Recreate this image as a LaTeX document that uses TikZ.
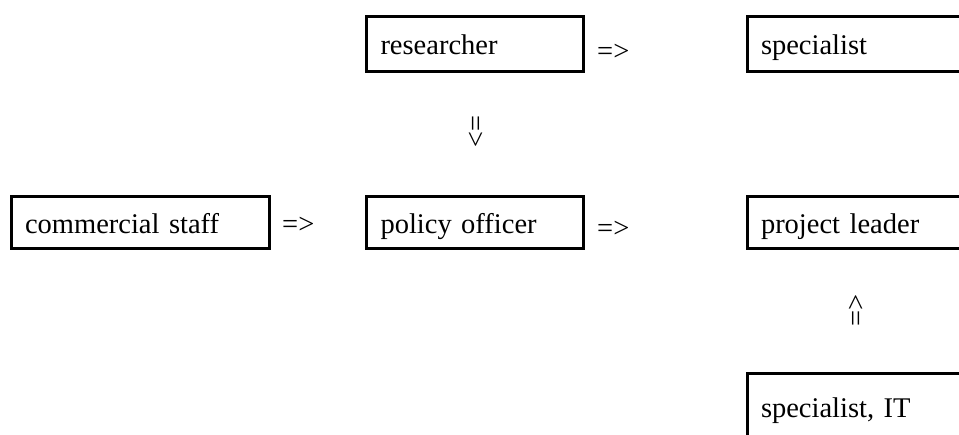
\documentclass[tikz,border=0pt]{standalone}
\usepackage{fontspec}
\setmainfont{Liberation Serif}
\begin{document}
\begin{tikzpicture}[x=1pt,y=-1pt,
  box/.style={draw=black, line width=3pt, rectangle, anchor=north west,
    font=\fontsize{28.5}{34}\selectfont, inner xsep=14pt, inner ysep=0pt,
    align=left, text height=21pt, text depth=0pt},
  arr/.style={font=\fontsize{28.5}{34}\selectfont, inner sep=0pt}]
\useasboundingbox (0,0) rectangle (959,434);
% boxes
\node[box, minimum width=217pt, minimum height=55pt, text width=189pt] (res) at (365,14.5) {researcher};
\node[box, minimum width=217pt, minimum height=55pt, text width=189pt] (spec) at (745.5,15) {specialist};
\node[box, minimum width=258.5pt, minimum height=52pt, text width=230.5pt] (com) at (9.5,195) {commercial staff};
\node[box, minimum width=217pt, minimum height=52pt, text width=189pt] (pol) at (365,195) {policy officer};
\node[box, minimum width=217pt, minimum height=52pt, text width=189pt] (pl) at (745.5,195) {project leader};
\node[box, minimum width=217pt, minimum height=66pt, text width=189pt] (sit) at (745.5,372) {specialist, IT};
% arrows as text
\node[arr, anchor=base west] (a1) at (597,60) {=>};
\node[arr, anchor=base west] (a2) at (282,233) {=>};
\node[arr, anchor=base west] (a3) at (597,237) {=>};
\node[arr, rotate=-90] (a4) at (475,131.5) {=>};
\node[arr, rotate=90] (a5) at (857.5,310) {=>};
\end{tikzpicture}
\end{document}
